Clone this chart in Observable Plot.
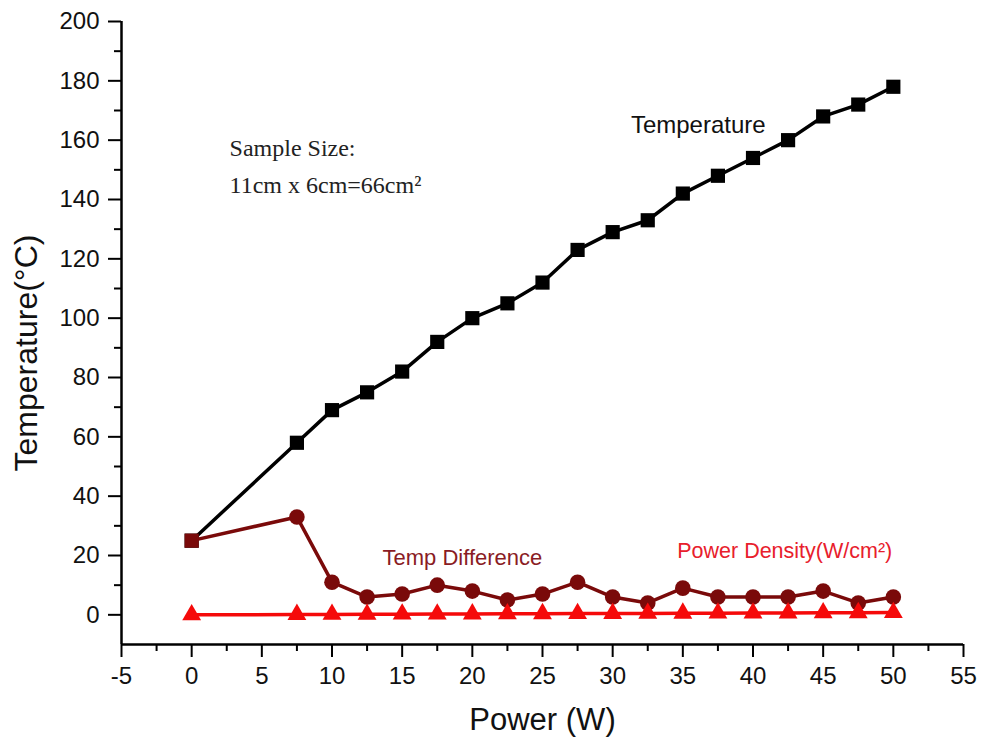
<!DOCTYPE html>
<html>
<head>
<meta charset="utf-8">
<script src="https://cdn.jsdelivr.net/npm/d3@7"></script>
<script src="https://cdn.jsdelivr.net/npm/@observablehq/plot@0.6"></script>
<style>
  html, body { margin: 0; padding: 0; background: #fff; }
</style>
</head>
<body>
<div id="chart"></div>
<script>
// ---- data ----
const power = [0, 7.5, 10, 12.5, 15, 17.5, 20, 22.5, 25, 27.5, 30, 32.5, 35, 37.5, 40, 42.5, 45, 47.5, 50];
const temperature = [25, 58, 69, 75, 82, 92, 100, 105, 112, 123, 129, 133, 142, 148, 154, 160, 168, 172, 178];
const tempDifference = [25, 33, 11, 6, 7, 10, 8, 5, 7, 11, 6, 4, 9, 6, 6, 6, 8, 4, 6];
const powerDensity = [0, 0.11, 0.15, 0.19, 0.23, 0.27, 0.30, 0.34, 0.38, 0.42, 0.45, 0.49, 0.53, 0.57, 0.61, 0.64, 0.68, 0.72, 0.76];

const xTicks = [-5, 0, 5, 10, 15, 20, 25, 30, 35, 40, 45, 50, 55];
const xMinorTicks = [-2.5, 2.5, 7.5, 12.5, 17.5, 22.5, 27.5, 32.5, 37.5, 42.5, 47.5, 52.5];
const yTicks = [0, 20, 40, 60, 80, 100, 120, 140, 160, 180, 200];
const yMinorTicks = [10, 30, 50, 70, 90, 110, 130, 150, 170, 190];

const xLabel = "Power (W)";
const yLabel = "Temperature(°C)";

// ---- tables built from the arrays ----
const tempData = power.map((p, i) => ({x: p, y: temperature[i]}));
const diffData = power.map((p, i) => ({x: p, y: tempDifference[i]}));
const densData = power.map((p, i) => ({x: p, y: powerDensity[i]}));

const BLACK = "#000000";
const MAROON = "#7a0a0a";
const RED = "#f50a0a";
const SANS = "Liberation Sans, Arial, Helvetica, sans-serif";
const SERIF = "Liberation Serif, Times New Roman, serif";
const fmt = d => `${d}`;

const chart = Plot.plot({
  width: 981,
  height: 743,
  marginLeft: 121,
  marginRight: 18,
  marginTop: 21,
  marginBottom: 99,
  style: {fontFamily: SANS, background: "#fff", color: "#000", overflow: "visible"},
  x: {domain: [-5, 55], axis: null},
  y: {domain: [-10, 200], axis: null},
  marks: [
    // axes
    Plot.axisX(xTicks, {tickSize: 13, tickPadding: 9, fontSize: 24, strokeWidth: 2, label: null, fill: "#111", tickFormat: fmt}),
    Plot.axisX(xMinorTicks, {tickSize: 7, text: null, strokeWidth: 2, label: null}),
    Plot.axisY(yTicks, {tickSize: 13, tickPadding: 9, fontSize: 24, strokeWidth: 2, label: null, fill: "#111", tickFormat: fmt}),
    Plot.axisY(yMinorTicks, {tickSize: 7, text: null, strokeWidth: 2, label: null}),
    Plot.ruleY([-10], {strokeWidth: 2.5}),
    Plot.ruleX([-5], {strokeWidth: 2.5}),
    // axis titles
    Plot.text([xLabel], {frameAnchor: "bottom", dy: 76, fontSize: 31, fill: "#111", lineAnchor: "middle", textAnchor: "middle"}),
    Plot.text([yLabel], {frameAnchor: "left", dx: -95, dy: 20, rotate: -90, fontSize: 32, fill: "#111", lineAnchor: "middle", textAnchor: "middle"}),

    // Temperature series
    Plot.line(tempData, {x: "x", y: "y", stroke: BLACK, strokeWidth: 3.5}),
    Plot.dot(tempData, {x: "x", y: "y", symbol: "square", r: 8, fill: BLACK, stroke: null}),

    // Temp Difference series
    Plot.line(diffData, {x: "x", y: "y", stroke: MAROON, strokeWidth: 3.5}),
    Plot.dot(diffData.slice(1), {x: "x", y: "y", symbol: "circle", r: 7.8, fill: MAROON, stroke: null}),
    Plot.dot(diffData.slice(0, 1), {x: "x", y: "y", symbol: "square", r: 8, fill: MAROON, stroke: null}),

    // Power Density series
    Plot.line(densData, {x: "x", y: "y", stroke: RED, strokeWidth: 3.5}),
    Plot.dot(densData, {x: "x", y: "y", symbol: "triangle", r: 7, fill: RED, stroke: null}),

    // annotations
    Plot.text(["Temperature"], {x: 31.3, y: 162.3, textAnchor: "start", lineAnchor: "bottom", fontSize: 24, fill: "#111"}),
    Plot.text(["Sample Size:"], {x: 2.7, y: 154.8, textAnchor: "start", lineAnchor: "bottom", fontSize: 24, fontFamily: SERIF, fill: "#222"}),
    Plot.text(["11cm x 6cm=66cm²"], {x: 2.7, y: 142.1, textAnchor: "start", lineAnchor: "bottom", fontSize: 24, fontFamily: SERIF, fill: "#222"}),
    Plot.text(["Temp Difference"], {x: 13.6, y: 16.9, textAnchor: "start", lineAnchor: "bottom", fontSize: 22, fill: "#8a1c24"}),
    Plot.text(["Power Density(W/cm²)"], {x: 34.6, y: 19.3, textAnchor: "start", lineAnchor: "bottom", fontSize: 21.5, fill: "#e8202c"})
  ]
});

document.getElementById("chart").appendChild(chart);
</script>
</body>
</html>
